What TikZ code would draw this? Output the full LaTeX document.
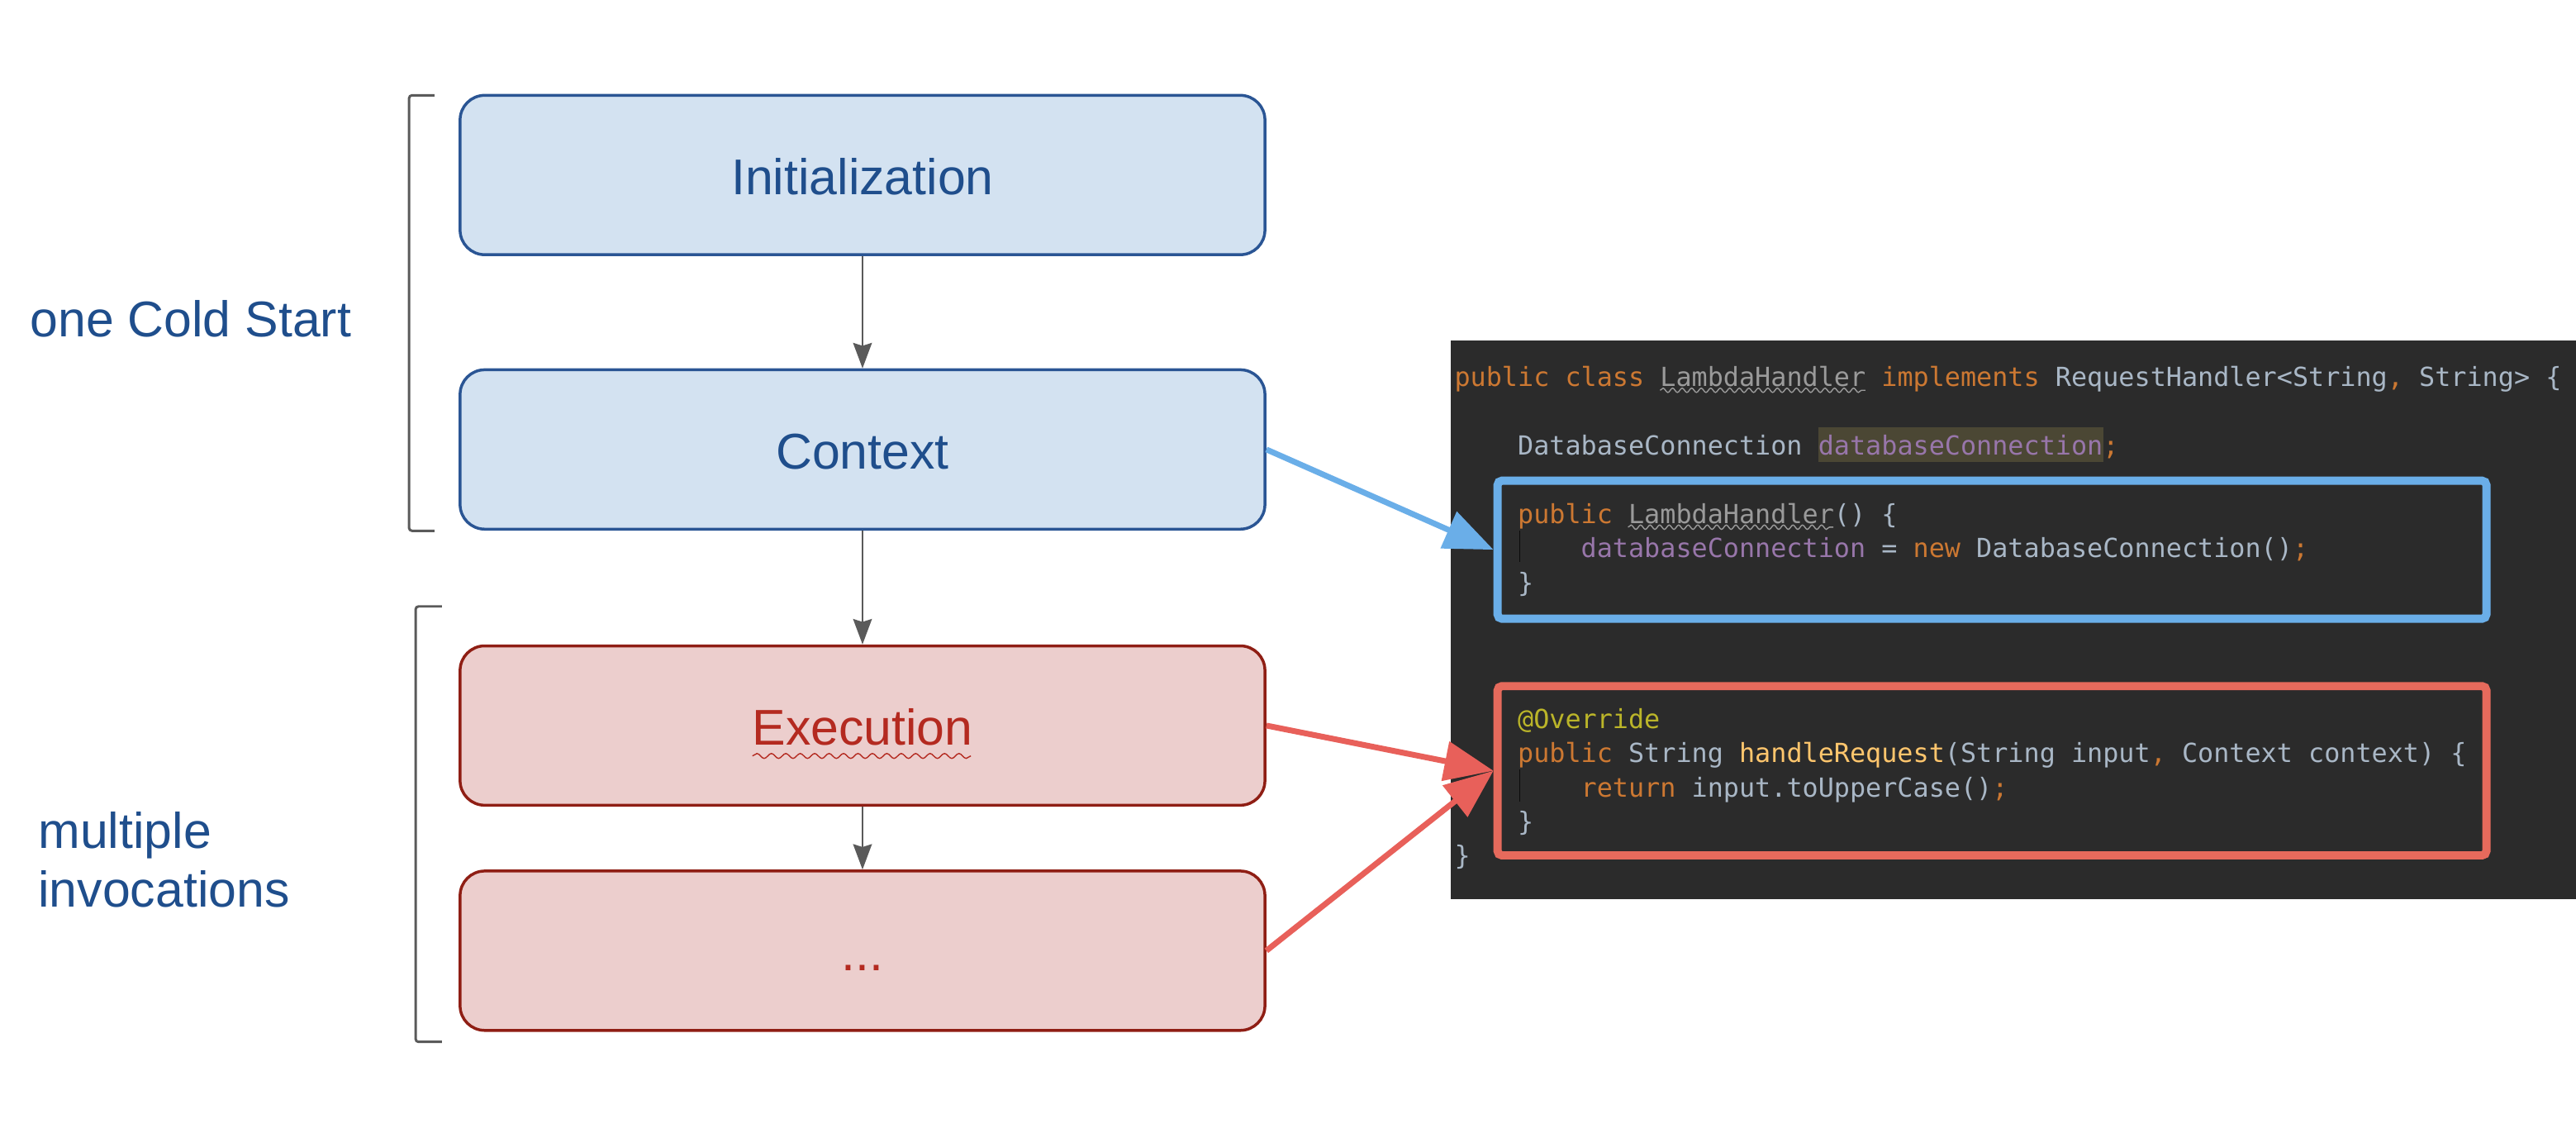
\documentclass[tikz,border=0pt]{standalone}
\usepackage{fontspec}
\setmainfont{Liberation Sans}
\setmonofont{DejaVu Sans Mono}
\usepackage{xcolor}
\usetikzlibrary{positioning,arrows.meta,decorations.pathmorphing}

\definecolor{coldFill}{HTML}{D3E2F1}
\definecolor{coldLine}{HTML}{2A5594}
\definecolor{coldText}{HTML}{1F4E8C}
\definecolor{warmFill}{HTML}{ECCECD}
\definecolor{warmLine}{HTML}{8F1E14}
\definecolor{warmText}{HTML}{B42A20}
\definecolor{flowGray}{HTML}{5A5A5A}
\definecolor{ptrBlue}{HTML}{6AAEE8}
\definecolor{ptrRed}{HTML}{E8605A}
\definecolor{boxRed}{HTML}{E66A5C}
\definecolor{codeBg}{HTML}{2B2B2B}
\definecolor{codePlain}{HTML}{A9B7C6}
\definecolor{kw}{HTML}{CC7832}
\definecolor{fld}{HTML}{9876AA}
\definecolor{annot}{HTML}{BBB529}
\definecolor{meth}{HTML}{FFC66D}
\definecolor{unused}{HTML}{9A9A9A}
\definecolor{caretBg}{HTML}{4B4734}

\tikzset{
  stage/.style={draw, rounded corners=0.3cm, minimum width=9.8cm, minimum height=1.94cm,
    line width=1pt, font=\fontsize{17.4}{20}\selectfont, text height=16pt, text depth=2.4pt},
  cold/.style={stage, fill=coldFill, draw=coldLine, text=coldText},
  warm/.style={stage, fill=warmFill, draw=warmLine, text=warmText},
  flow/.style={-{Stealth[length=8.8pt,width=6.5pt,inset=1pt]}, draw=flowGray, line width=0.6pt},
  bracket/.style={draw=flowGray, line width=0.85pt, rounded corners=1pt},
  sidelabel/.style={anchor=base west, inner sep=0pt, text=coldText, font=\fontsize{17.4}{20.5}\selectfont},
  code/.style={anchor=base west, inner sep=0pt, text=codePlain, font=\fontsize{9.1}{11}\ttfamily},
  hlbox/.style={draw, line width=2.85pt, rounded corners=1.5pt, inner sep=0pt},
  pointer/.style={line width=2pt, -{Triangle[length=17pt,width=13.5pt]}},
  squiggle/.style={decorate, decoration={snake, amplitude=0.75pt, segment length=3.3pt}, line width=0.4pt},
  guide/.style={draw=black!75!codeBg, line width=0.5pt}
}

\begin{document}
\begin{tikzpicture}[x=0.02cm, y=-0.02cm]
\useasboundingbox (0,0) rectangle (1568,692);

% Lifecycle stages
\node[cold] (init) at (525,106.5) {Initialization};
\node[cold] (ctx) at (525,273.5) {Context};
\node[warm] (exec) at (525,441.5) {Execution};
\node[warm] (more) at (525,578.5) {...};

\draw[flow] (init) -- (ctx);
\draw[flow] (ctx) -- (exec);
\draw[flow] (exec) -- (more);

% spell check underline
\draw[squiggle, draw=warmText, decoration={amplitude=0.85pt, segment length=5pt}] (458,460) -- (591,460);

% Brackets and their labels
\draw[bracket] (264.5,58) -- (249,58) -- (249,323) -- (264.5,323);
\draw[bracket] (269,369) -- (253,369) -- (253,634) -- (269,634);
\node[sidelabel] (coldlbl) at (18,205) {one Cold Start};
\node[sidelabel, align=left] (warmlbl) at (23,552) {multiple\\invocations};

% Code panel
\node[fill=codeBg, inner sep=0pt, minimum width=13.7cm, minimum height=6.8cm] (panel) at (1225.5,377) {};
\fill[caretBg] (1107,260) rectangle (1280.5,281);
\draw[guide] (925,323) -- (925,342);
\draw[guide] (925,468) -- (925,488);

\node[code] (line1) at (885,235.3) {\textcolor{kw}{public class} \textcolor{unused}{LambdaHandler} \textcolor{kw}{implements} RequestHandler<String\textcolor{kw}{,} String> \{};
\node[code] (line2) at (923.5,276.9) {DatabaseConnection \textcolor{fld}{databaseConnection}\textcolor{kw}{;}};
\node[code] (line3) at (923.5,318.5) {\textcolor{kw}{public} \textcolor{unused}{LambdaHandler}() \{};
\node[code] (line4) at (962,339.3) {\textcolor{fld}{databaseConnection} = \textcolor{kw}{new} DatabaseConnection()\textcolor{kw}{;}};
\node[code] (line5) at (923.5,360.1) {\}};
\node[code] (line6) at (923.5,443.3) {\textcolor{annot}{@Override}};
\node[code] (line7) at (923.5,464.1) {\textcolor{kw}{public} String \textcolor{meth}{handleRequest}(String input\textcolor{kw}{,} Context context) \{};
\node[code] (line8) at (962,484.9) {\textcolor{kw}{return} input.toUpperCase()\textcolor{kw}{;}};
\node[code] (line9) at (923.5,505.7) {\}};
\node[code] (line10) at (885,526.5) {\}};

\draw[squiggle, draw=unused] (1010.5,237.5) -- (1135.5,237.5);
\draw[squiggle, draw=unused] (991,320.8) -- (1116,320.8);

% Highlighted parts of the handler
\node[hlbox, draw=ptrBlue, minimum width=12.04cm, minimum height=1.68cm] (initcode) at (1212.5,334.5) {};
\node[hlbox, draw=boxRed, minimum width=12.04cm, minimum height=2.06cm] (execcode) at (1212.5,469) {};

\draw[pointer, ptrBlue] (ctx.east) -- (initcode.west);
\draw[pointer, ptrRed] (exec.east) -- (execcode.west);
\draw[pointer, ptrRed] (more.east) -- (execcode.west);

\end{tikzpicture}
\end{document}
